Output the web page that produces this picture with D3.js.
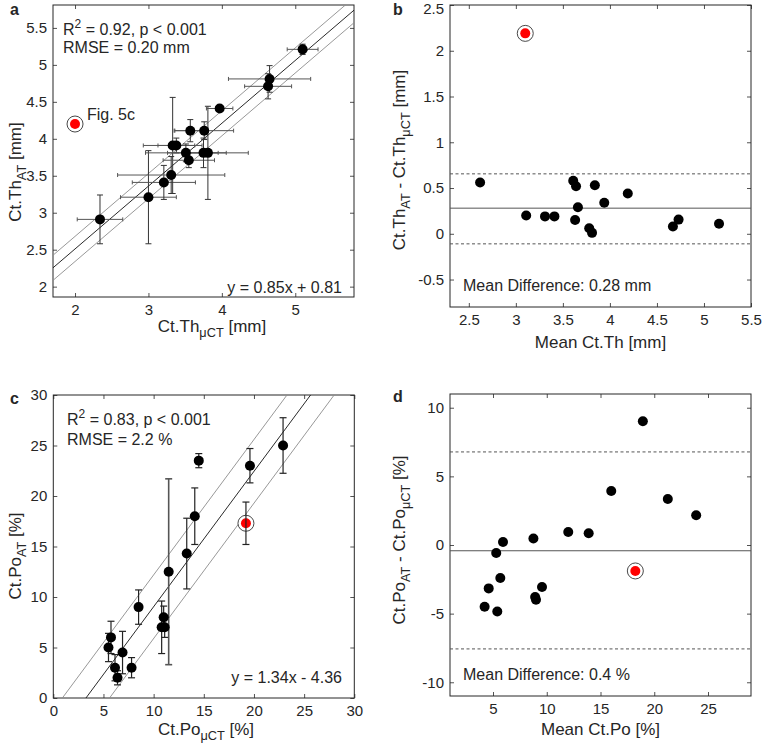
<!DOCTYPE html>
<html><head><meta charset="utf-8">
<script src="https://cdn.jsdelivr.net/npm/d3@7/dist/d3.min.js"></script>
<style>
body{margin:0;background:#fff}
text{font-family:"Liberation Sans",Arial,sans-serif;fill:#262626}
</style>
</head><body>
<svg id="chart" width="762" height="749"></svg>
<script>
// ---------- Panel a: Ct.Th AT vs microCT ----------
const thMicroCT    = [2.34, 3.00, 3.21, 3.31, 3.33, 3.38, 3.55, 3.51, 3.57, 3.76, 3.75, 3.81, 3.97, 4.63, 4.65, 5.10];
const thAT         = [2.91, 3.21, 3.41, 3.51, 3.91, 3.91, 3.71, 3.81, 4.11, 4.11, 3.81, 3.81, 4.41, 4.71, 4.81, 5.21];
const thMicroCTErr = [0.31, 0.38, 0.43, 0.73, 0.40, 0.25, 0.35, 0.55, 0.22, 0.40, 0.20, 0.55, 0.18, 0.32, 0.56, 0.21];
const thATErr      = [0.33, 0.63, 0.23, 0.25, 0.65, 0.10, 0.10, 0.12, 0.15, 0.12, 0.20, 0.63, 0.03, 0.17, 0.18, 0.07];
const thOutlier    = [2.0, 4.2];
const thFit        = {slope: 0.85, intercept: 0.81, band: 0.17};
const thXTicks = [2, 3, 4, 5];
const thYTicks = [2, 2.5, 3, 3.5, 4, 4.5, 5, 5.5];

// ---------- Panel b: Bland-Altman thickness ----------
const thMean = [2.62, 3.11, 3.31, 3.41, 3.61, 3.64, 3.63, 3.66, 3.84, 3.94, 3.78, 3.81, 4.19, 4.67, 4.73, 5.16];
const thDiff = [0.56, 0.20, 0.19, 0.19, 0.58, 0.52, 0.15, 0.29, 0.53, 0.34, 0.06, 0.01, 0.44, 0.08, 0.155, 0.11];
const thOutlierBA = [3.10, 2.19];
const thBias = 0.28, thUpper = 0.655, thLower = -0.11;
const thBAXTicks = [2.5, 3, 3.5, 4, 4.5, 5, 5.5];
const thBAYTicks = [-0.5, 0, 0.5, 1, 1.5, 2, 2.5];

// ---------- Panel c: Ct.Po AT vs microCT ----------
const poMicroCT = [5.5, 5.75, 6.15, 6.4, 6.9, 7.8, 8.5, 10.8, 11.1, 11.0, 11.5, 13.3, 14.1, 14.5, 19.6, 22.9];
const poAT      = [5.0, 6.0, 3.0, 2.0, 4.5, 3.0, 9.0, 7.0, 7.0, 8.0, 12.5, 14.3, 18.0, 23.5, 23.0, 25.0];
const poATErr   = [1.4, 1.6, 1.3, 0.7, 2.1, 1.0, 1.7, 2.6, 1.0, 1.1, 9.2, 3.5, 2.8, 0.7, 1.7, 2.75];
const poOutlier = [19.2, 17.3], poOutlierErr = 2.1;
const poFit = {slope: 1.34, intercept: -4.36, band: 3.15};
const poTicks = [0, 5, 10, 15, 20, 25, 30];

// ---------- Panel d: Bland-Altman porosity ----------
const poMean = [18.94, 16.0, 21.26, 23.9, 12.0, 13.9, 8.76, 5.93, 5.3, 5.68, 4.6, 9.56, 8.92, 9.0, 4.22, 5.4];
const poDiff = [9.02, 3.93, 3.35, 2.17, 0.95, 0.85, 0.48, 0.22, -0.58, -2.4, -3.16, -3.06, -3.79, -3.99, -4.5, -4.84];
const poOutlierBA = [18.24, -1.89];
const poBias = -0.42, poUpper = 6.78, poLower = -7.57;
const poBAXTicks = [5, 10, 15, 20, 25];
const poBAYTicks = [-10, -5, 0, 5, 10];

const svg = d3.select("#chart");
const AX = "#262626";
const LABEL_SIZE = 17;
let clipN = 0;

function makePanel(box, xd, yd, xt, yt) {
  const x = d3.scaleLinear().domain(xd).range([box.l, box.r]);
  const y = d3.scaleLinear().domain(yd).range([box.b, box.t]);
  const id = "clip" + (clipN++);
  svg.append("clipPath").attr("id", id).append("rect")
    .attr("x", box.l).attr("y", box.t).attr("width", box.r - box.l).attr("height", box.b - box.t);
  const fmt = d => String(d);
  const style = sel => {
    sel.attr("font-size", 15).attr("font-family", '"Liberation Sans",Arial,sans-serif').style("color", AX);
    sel.select(".domain").remove();
    sel.selectAll("line").attr("stroke-width", 0.8);
  };
  svg.append("g").attr("transform", `translate(0,${box.b})`)
    .call(d3.axisBottom(x).tickValues(xt).tickSize(-4).tickPadding(7).tickFormat(fmt)).call(style);
  svg.append("g").attr("transform", `translate(0,${box.t})`)
    .call(d3.axisTop(x).tickValues(xt).tickSize(-4).tickFormat("")).call(style);
  const left = svg.append("g").attr("transform", `translate(${box.l},0)`)
    .call(d3.axisLeft(y).tickValues(yt).tickSize(-4).tickPadding(6).tickFormat(fmt)).call(style);
  // keep the top-most label inside the picture
  left.selectAll(".tick text").attr("y", function (d) {
    const py = y(d); return py < 9 ? 9 - py : 0;
  });
  svg.append("g").attr("transform", `translate(${box.r},0)`)
    .call(d3.axisRight(y).tickValues(yt).tickSize(-4).tickFormat("")).call(style);
  svg.append("rect").attr("x", box.l).attr("y", box.t)
    .attr("width", box.r - box.l).attr("height", box.b - box.t)
    .attr("fill", "none").attr("stroke", AX).attr("stroke-width", 1);
  const g = svg.append("g");
  const gc = g.append("g").attr("clip-path", `url(#${id})`);
  return {x, y, g, gc, box};
}

function label(txt, x, y, size, weight) {
  return svg.append("text").attr("x", x).attr("y", y).attr("font-size", size || 16)
    .attr("font-weight", weight || "normal").text(txt);
}
function rich(x, y, parts, opts) {
  opts = opts || {};
  const size = opts.size || 16;
  const t = svg.append("text").attr("x", x).attr("y", y).attr("font-size", size);
  if (opts.anchor) t.attr("text-anchor", opts.anchor);
  if (opts.rotate) t.attr("transform", `rotate(-90,${x},${y})`);
  let shift = 0;
  parts.forEach(([s, k]) => {
    const ts = t.append("tspan").text(s);
    const target = k === "sub" ? size * 0.32 : k === "sup" ? -size * 0.45 : 0;
    ts.attr("dy", target - shift);
    shift = target;
    if (k === "sub" || k === "sup") ts.attr("font-size", size * 0.75);
  });
  return t;
}

function fitLines(p, fit, xd) {
  const xs = [xd[0] - 5, xd[1] + 5];
  [[-fit.band, "#8c8c8c"], [fit.band, "#8c8c8c"], [0, "#111"]].forEach(([off, col]) => {
    p.gc.append("line")
      .attr("x1", p.x(xs[0])).attr("y1", p.y(fit.slope * xs[0] + fit.intercept + off))
      .attr("x2", p.x(xs[1])).attr("y2", p.y(fit.slope * xs[1] + fit.intercept + off))
      .attr("stroke", col).attr("stroke-width", 0.9);
  });
}

function ring(p, pt) {
  p.g.append("circle").attr("cx", p.x(pt[0])).attr("cy", p.y(pt[1])).attr("r", 8)
    .attr("fill", "#fff").attr("stroke", "#333").attr("stroke-width", 0.9);
  p.g.append("circle").attr("cx", p.x(pt[0])).attr("cy", p.y(pt[1])).attr("r", 5).attr("fill", "#ff0000");
}

function dots(p, xs, ys) {
  p.g.selectAll(null).data(xs).enter().append("circle")
    .attr("cx", d => p.x(d)).attr("cy", (d, i) => p.y(ys[i])).attr("r", 5).attr("fill", "#000");
}

function vbar(p, xv, y0, y1, cap, col, w) {
  const g = p.g;
  g.append("line").attr("x1", p.x(xv)).attr("x2", p.x(xv)).attr("y1", p.y(y0)).attr("y2", p.y(y1))
    .attr("stroke", col).attr("stroke-width", w);
  [y0, y1].forEach(v => g.append("line").attr("x1", p.x(xv) - cap).attr("x2", p.x(xv) + cap)
    .attr("y1", p.y(v)).attr("y2", p.y(v)).attr("stroke", col).attr("stroke-width", w));
}
function hbar(p, yv, x0, x1, cap, col, w) {
  const g = p.g;
  g.append("line").attr("x1", p.x(x0)).attr("x2", p.x(x1)).attr("y1", p.y(yv)).attr("y2", p.y(yv))
    .attr("stroke", col).attr("stroke-width", w);
  [x0, x1].forEach(v => g.append("line").attr("x1", p.x(v)).attr("x2", p.x(v))
    .attr("y1", p.y(yv) - cap).attr("y2", p.y(yv) + cap).attr("stroke", col).attr("stroke-width", w));
}

// ===== Panel a =====
const pa = makePanel({l: 53, r: 354, t: 5, b: 297}, [1.7, 5.8], [1.86, 5.81], thXTicks, thYTicks);
fitLines(pa, thFit, [1.7, 5.8]);
thMicroCT.forEach((xv, i) => {
  hbar(pa, thAT[i], xv - thMicroCTErr[i], xv + thMicroCTErr[i], 2, "#555", 1);
  vbar(pa, xv, thAT[i] - thATErr[i], thAT[i] + thATErr[i], 3, "#333", 1);
});
dots(pa, thMicroCT, thAT);
ring(pa, thOutlier);
label("a", 10, 15, 16, "bold");
rich(63, 35, [["R", "n"], ["2", "sup"], [" = 0.92, p < 0.001", "n"]]);
label("RMSE = 0.20 mm", 63, 53);
label("Fig. 5c", 87, 120);
label("y = 0.85x + 0.81", 342, 293).attr("text-anchor", "end");
rich(212, 332, [["Ct.Th", "n"], ["\u03BCCT", "sub"], [" [mm]", "n"]], {anchor: "middle", size: LABEL_SIZE});
rich(21, 172, [["Ct.Th", "n"], ["AT", "sub"], [" [mm]", "n"]], {anchor: "middle", rotate: true, size: LABEL_SIZE});

// ===== Panel b =====
const pb = makePanel({l: 450, r: 751, t: 5, b: 307}, [2.3, 5.5], [-0.8, 2.5], thBAXTicks, thBAYTicks);
[[thUpper, "3,2.5"], [thLower, "3,2.5"], [thBias, null]].forEach(([v, dash]) => {
  const l = pb.gc.append("line").attr("x1", pb.box.l).attr("x2", pb.box.r)
    .attr("y1", pb.y(v)).attr("y2", pb.y(v)).attr("stroke", "#555").attr("stroke-width", 1);
  if (dash) l.attr("stroke-dasharray", dash);
});
dots(pb, thMean, thDiff);
ring(pb, thOutlierBA);
label("b", 393, 15, 16, "bold");
label("Mean Difference: 0.28 mm", 463, 291);
label("Mean Ct.Th [mm]", 600.5, 348, LABEL_SIZE).attr("text-anchor", "middle");
rich(405, 160, [["Ct.Th", "n"], ["AT", "sub"], [" - Ct.Th", "n"], ["\u03BCCT", "sub"], [" [mm]", "n"]], {anchor: "middle", rotate: true, size: LABEL_SIZE});

// ===== Panel c =====
const pc = makePanel({l: 53.3, r: 354.3, t: 395, b: 698}, [0, 30], [0, 30], poTicks, poTicks);
fitLines(pc, poFit, [0, 30]);
poMicroCT.forEach((xv, i) => {
  const wide = poATErr[i] > 5;
  vbar(pc, xv, poAT[i] - poATErr[i], poAT[i] + poATErr[i], 3.5, wide ? "#555" : "#222", wide ? 1.6 : 1.2);
});
dots(pc, poMicroCT, poAT);
ring(pc, poOutlier);
vbar(pc, poOutlier[0], poOutlier[1] - poOutlierErr, poOutlier[1] + poOutlierErr, 3.5, "#222", 1.2);
label("c", 10, 404, 16, "bold");
rich(67, 425, [["R", "n"], ["2", "sup"], [" = 0.83, p < 0.001", "n"]]);
label("RMSE = 2.2 %", 67, 445);
label("y = 1.34x - 4.36", 342, 683).attr("text-anchor", "end");
rich(206, 735, [["Ct.Po", "n"], ["\u03BCCT", "sub"], [" [%]", "n"]], {anchor: "middle", size: LABEL_SIZE});
rich(21, 556, [["Ct.Po", "n"], ["AT", "sub"], [" [%]", "n"]], {anchor: "middle", rotate: true, size: LABEL_SIZE});

// ===== Panel d =====
const pd = makePanel({l: 450, r: 751, t: 394, b: 696}, [1, 29], [-11, 11], poBAXTicks, poBAYTicks);
[[poUpper, "3,2.5"], [poLower, "3,2.5"], [poBias, null]].forEach(([v, dash]) => {
  const l = pd.gc.append("line").attr("x1", pd.box.l).attr("x2", pd.box.r)
    .attr("y1", pd.y(v)).attr("y2", pd.y(v)).attr("stroke", "#555").attr("stroke-width", 1);
  if (dash) l.attr("stroke-dasharray", dash);
});
dots(pd, poMean, poDiff);
ring(pd, poOutlierBA);
label("d", 393, 402, 16, "bold");
label("Mean Difference: 0.4 %", 463, 680);
label("Mean Ct.Po [%]", 600.5, 735, LABEL_SIZE).attr("text-anchor", "middle");
rich(405, 540, [["Ct.Po", "n"], ["AT", "sub"], [" - Ct.Po", "n"], ["\u03BCCT", "sub"], [" [%]", "n"]], {anchor: "middle", rotate: true, size: LABEL_SIZE});
</script>
</body></html>
